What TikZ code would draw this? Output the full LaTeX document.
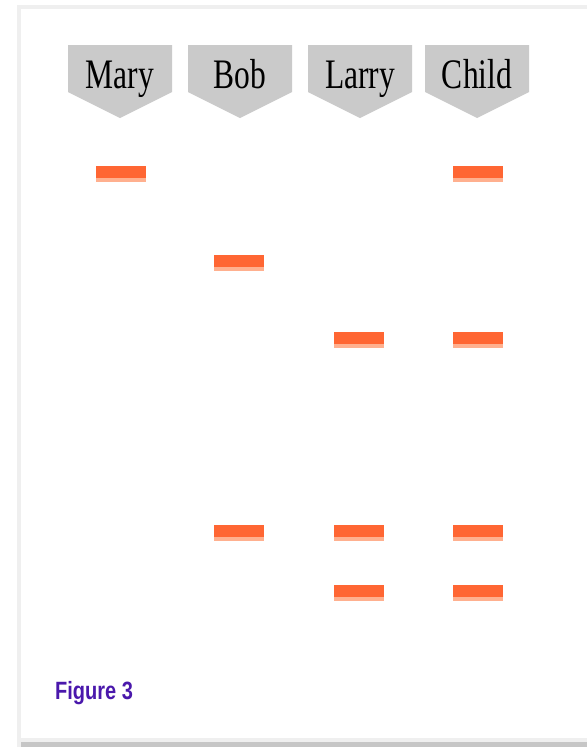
\documentclass[tikz,border=0pt]{standalone}
\usepackage{fontspec}
\setmainfont{Liberation Serif}
\newfontfamily\capfont{Liberation Sans}
\usetikzlibrary{calc}

\definecolor{tagGray}{HTML}{CACACA}
\definecolor{frameGray}{HTML}{EFEFEF}
\definecolor{shadowGray}{HTML}{C6C6C6}
\definecolor{bandOrange}{HTML}{FF6633}
\definecolor{bandLight}{HTML}{FFB08F}
\definecolor{capPurple}{HTML}{4A18AC}

\begin{document}
\begin{tikzpicture}[x=1pt,y=-1pt,inner sep=0pt,
  lane/.style={font=\fontsize{42}{42}\selectfont,anchor=base,xscale=0.75},
  band/.style={fill=bandOrange,minimum width=50pt,minimum height=16pt,
    path picture={\fill[bandLight] (path picture bounding box.south west)
      rectangle ([yshift=4pt]path picture bounding box.south east);}}]
\useasboundingbox (0,0) rectangle (587,747);
\fill[frameGray] (17,5) rectangle (587,747);
\fill[white] (21,9) rectangle (587,738);
\fill[shadowGray] (21,742) rectangle (587,747);

% lane headers
\def\w{52}
\foreach \x in {120,240,360,477}
  \fill[tagGray] (\x-\w,45) -- (\x+\w,45) -- (\x+\w,92) -- (\x,118) -- (\x-\w,92) -- cycle;
\node[lane] (l1) at (120, 88) {Mary};
\node[lane] (l2) at (240, 88) {Bob};
\node[lane] (l3) at (360, 88) {Larry};
\node[lane] (l4) at (477, 88) {Child};

% bands
\node[band] (b11) at (121, 174) {};
\node[band] (b41) at (478, 174) {};
\node[band] (b22) at (239, 263) {};
\node[band] (b33) at (359, 340) {};
\node[band] (b43) at (478, 340) {};
\node[band] (b24) at (239, 533) {};
\node[band] (b34) at (359, 533) {};
\node[band] (b44) at (478, 533) {};
\node[band] (b35) at (359, 593) {};
\node[band] (b45) at (478, 593) {};

\node[anchor=base west,text=capPurple,xscale=0.8,
  font=\capfont\bfseries\fontsize{25}{25}\selectfont]
  (cap) at (55, 699) {Figure 3};
\end{tikzpicture}
\end{document}
